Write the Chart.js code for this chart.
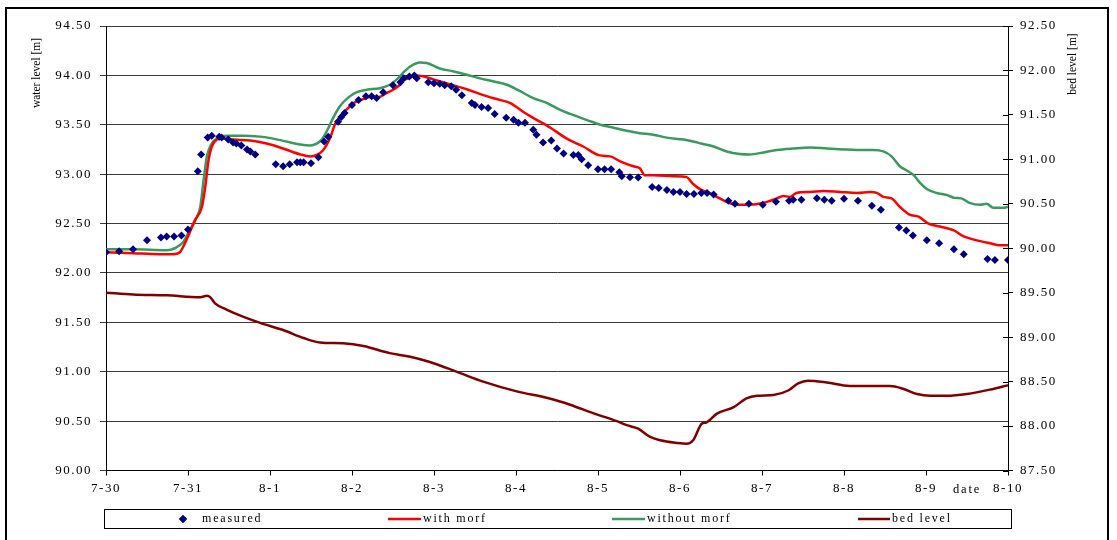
<!DOCTYPE html>
<html>
<head>
<meta charset="utf-8">
<script src="https://cdn.jsdelivr.net/npm/chart.js@4.4.0/dist/chart.umd.min.js"></script>
<style>
  html, body { margin: 0; padding: 0; background: #fff; }
  #wrap { position: relative; width: 1117px; height: 540px; overflow: hidden; }
  #wrap canvas { position: absolute; left: 0; top: 0; }
  #frame { position: absolute; left: 5px; top: 7px; width: 1100px; height: 560px; border: 2px solid #000; pointer-events: none; }
</style>
</head>
<body>
<div id="wrap">
  <canvas id="chart" width="1117" height="540"></canvas>
  <div id="frame"></div>
</div>
<script>
// Tick labels of the time axis (one per day, day 0 = 7-30)
const dateLabels = ['7-30', '7-31', '8-1', '8-2', '8-3', '8-4', '8-5', '8-6', '8-7', '8-8', '8-9', '8-10'];

// Measured water level [m]
const measuredDay = [0, 0.16, 0.33, 0.50, 0.67, 0.74, 0.83, 0.92, 1.00, 1.12, 1.16, 1.24, 1.29, 1.38, 1.41, 1.49, 1.55, 1.59, 1.65, 1.72, 1.76, 1.82,
  2.07, 2.16, 2.24, 2.33, 2.37, 2.41, 2.50, 2.59, 2.66, 2.71, 2.83, 2.87, 2.91, 3.00, 3.08, 3.17, 3.24, 3.30, 3.38, 3.50, 3.59, 3.63,
  3.70, 3.76, 3.79, 3.93, 4.00, 4.07, 4.13, 4.21, 4.27, 4.34, 4.46, 4.50, 4.58, 4.66, 4.74, 4.88, 4.97, 5.03, 5.11, 5.21, 5.25, 5.33,
  5.43, 5.50, 5.58, 5.70, 5.76, 5.80, 5.88, 6.00, 6.08, 6.16, 6.26, 6.29, 6.39, 6.49, 6.66, 6.74, 6.84, 6.92, 7.00, 7.08, 7.17, 7.26,
  7.33, 7.41, 7.59, 7.67, 7.84, 8.01, 8.17, 8.33, 8.38, 8.48, 8.67, 8.76, 8.85, 9.00, 9.17, 9.34, 9.45, 9.67, 9.76, 9.84, 10.01,
  10.16, 10.34, 10.46, 10.75, 10.84, 11.00];
const measuredLevel = [92.21, 92.22, 92.24, 92.33, 92.36, 92.37, 92.37, 92.38, 92.44, 93.03, 93.20, 93.37, 93.39, 93.38, 93.37, 93.35, 93.32, 93.31, 93.29, 93.25, 93.23, 93.20,
  93.10, 93.08, 93.10, 93.12, 93.12, 93.12, 93.11, 93.17, 93.33, 93.38, 93.53, 93.58, 93.62, 93.70, 93.75, 93.79, 93.79, 93.77, 93.83, 93.90, 93.93, 93.97,
  93.99, 94.00, 93.97, 93.93, 93.92, 93.915, 93.90, 93.89, 93.855, 93.80, 93.72, 93.70, 93.68, 93.67, 93.61, 93.57, 93.55, 93.52, 93.52, 93.45, 93.40, 93.32,
  93.34, 93.26, 93.21, 93.195, 93.195, 93.15, 93.09, 93.05, 93.05, 93.05, 93.02, 92.98, 92.97, 92.965, 92.87, 92.86, 92.84, 92.82, 92.82, 92.80, 92.80, 92.81,
  92.81, 92.795, 92.73, 92.70, 92.70, 92.69, 92.72, 92.73, 92.74, 92.74, 92.755, 92.74, 92.73, 92.75, 92.73, 92.68, 92.64, 92.46, 92.43, 92.38, 92.33,
  92.30, 92.24, 92.19, 92.14, 92.13, 92.13];

// Computed water level with morphology [m]
const withMorfDay = [0, 0.33, 0.66, 0.82, 0.90, 1.00, 1.085, 1.17, 1.21, 1.25, 1.29, 1.35, 1.41, 1.55, 1.76, 1.96, 2.16, 2.37, 2.49, 2.57, 2.65, 2.73, 2.79,
  2.85, 2.93, 3.02, 3.14, 3.22, 3.32, 3.42, 3.50, 3.585, 3.63, 3.69, 3.77, 3.87, 3.99, 4.19, 4.40, 4.60, 4.81, 4.93, 5.09, 5.21, 5.42, 5.62, 5.82,
  6.02, 6.15, 6.27, 6.43, 6.51, 6.57, 6.68, 6.92, 7.08, 7.16, 7.26, 7.33, 7.45, 7.57, 7.69, 7.85, 8.02, 8.18, 8.26, 8.34, 8.42, 8.59, 8.75, 8.95,
  9.16, 9.32, 9.40, 9.48, 9.58, 9.68, 9.80, 9.91, 10.03, 10.17, 10.34, 10.46, 10.62, 10.78, 10.90, 11.00];
const withMorfLevel = [92.21, 92.20, 92.19, 92.19, 92.21, 92.37, 92.535, 92.67, 92.87, 93.14, 93.28, 93.35, 93.36, 93.35, 93.34, 93.31, 93.26, 93.20, 93.18, 93.195, 93.245, 93.36, 93.50,
  93.58, 93.65, 93.72, 93.76, 93.78, 93.78, 93.82, 93.855, 93.905, 93.95, 93.97, 94.00, 93.99, 93.96, 93.91, 93.86, 93.80, 93.75, 93.72, 93.63, 93.57, 93.47, 93.36, 93.28,
  93.19, 93.18, 93.13, 93.08, 93.06, 92.99, 92.99, 92.98, 92.97, 92.90, 92.84, 92.82, 92.77, 92.72, 92.69, 92.69, 92.71, 92.755, 92.78, 92.77, 92.81, 92.82, 92.83, 92.82,
  92.81, 92.82, 92.81, 92.77, 92.755, 92.67, 92.59, 92.57, 92.50, 92.47, 92.43, 92.37, 92.33, 92.30, 92.28, 92.28];

// Computed water level without morphology [m]
const withoutMorfDay = [0, 0.33, 0.74, 0.84, 0.94, 1.02, 1.11, 1.15, 1.19, 1.23, 1.29, 1.37, 1.47, 1.67, 1.88, 2.04, 2.20, 2.37, 2.49, 2.57, 2.63, 2.69,
  2.77, 2.85, 2.96, 3.06, 3.18, 3.34, 3.46, 3.56, 3.64, 3.71, 3.83, 3.91, 4.07, 4.24, 4.40, 4.56, 4.72, 4.89, 5.05, 5.21, 5.38, 5.54, 5.66, 5.86,
  6.03, 6.19, 6.35, 6.51, 6.67, 6.84, 7.04, 7.16, 7.26, 7.41, 7.57, 7.73, 7.85, 8.02, 8.18, 8.38, 8.59, 8.79, 9.00, 9.16, 9.36, 9.48, 9.58, 9.68,
  9.76, 9.85, 9.93, 10.01, 10.13, 10.25, 10.35, 10.43, 10.53, 10.66, 10.74, 10.82, 10.96, 11.00];
const withoutMorfLevel = [92.24, 92.24, 92.23, 92.25, 92.31, 92.43, 92.57, 92.67, 92.94, 93.18, 93.31, 93.37, 93.39, 93.39, 93.38, 93.36, 93.33, 93.30, 93.29, 93.31, 93.35, 93.43,
  93.57, 93.685, 93.78, 93.83, 93.855, 93.87, 93.905, 93.97, 94.04, 94.09, 94.13, 94.125, 94.07, 94.04, 94.007, 93.97, 93.94, 93.905, 93.84, 93.77, 93.72, 93.65, 93.61, 93.55,
  93.50, 93.47, 93.44, 93.415, 93.40, 93.37, 93.35, 93.33, 93.31, 93.28, 93.23, 93.205, 93.20, 93.22, 93.245, 93.26, 93.27, 93.26, 93.25, 93.245, 93.245, 93.23, 93.18, 93.08,
  93.04, 92.99, 92.91, 92.85, 92.81, 92.79, 92.76, 92.755, 92.71, 92.69, 92.70, 92.66, 92.66, 92.67];

// Computed bed level [m] (right axis)
const bedDay = [0, 0.33, 0.74, 1.15, 1.23, 1.27, 1.33, 1.47, 1.67, 1.88, 2.16, 2.41, 2.61, 2.89, 3.14, 3.46, 3.71, 3.95, 4.28, 4.60, 5.01, 5.41,
  5.66, 5.94, 6.23, 6.35, 6.49, 6.63, 6.76, 6.96, 7.08, 7.16, 7.27, 7.32, 7.45, 7.65, 7.81, 7.94, 8.14, 8.32, 8.44, 8.56, 8.79, 9.07, 9.56, 9.72,
  9.89, 10.05, 10.25, 10.50, 10.78, 11.00];
const bedLevel = [89.50, 89.48, 89.47, 89.45, 89.465, 89.45, 89.38, 89.31, 89.23, 89.16, 89.08, 88.99, 88.94, 88.93, 88.90, 88.82, 88.78, 88.72, 88.61, 88.50, 88.39, 88.31,
  88.24, 88.145, 88.055, 88.01, 87.97, 87.88, 87.84, 87.81, 87.80, 87.84, 88.03, 88.04, 88.14, 88.21, 88.31, 88.34, 88.35, 88.40, 88.48, 88.51, 88.49, 88.45, 88.45, 88.42,
  88.36, 88.34, 88.34, 88.36, 88.41, 88.46];

const pairs = (xs, ys) => xs.map((x, i) => ({ x: x, y: ys[i] }));

const SERIF = "'Liberation Serif', 'Times New Roman', serif";

// Axis titles, the "date" label, inner halves of the right-axis ticks and the boxed legend
const decorations = {
  id: 'decorations',
  beforeDraw(chart) {
    chart.ctx.letterSpacing = '1.5px';
  },
  afterDraw(chart) {
    const ctx = chart.ctx;
    const y1 = chart.scales.y1;
    ctx.save();
    ctx.fillStyle = '#000';
    ctx.strokeStyle = '#000';

    // right axis ticks cross the axis line
    ctx.lineWidth = 1;
    y1.ticks.forEach(t => {
      const py = Math.round(y1.getPixelForValue(t.value)) + 0.5;
      ctx.beginPath();
      ctx.moveTo(y1.left - 5, py);
      ctx.lineTo(y1.left, py);
      ctx.stroke();
    });

    // vertical axis titles
    ctx.letterSpacing = '0px';
    ctx.font = '11.5px ' + SERIF;
    ctx.textAlign = 'center';
    ctx.textBaseline = 'middle';
    [['water level [m]', 37, 73], ['bed level [m]', 1073, 64]].forEach(([txt, x, y]) => {
      ctx.save();
      ctx.translate(x, y);
      ctx.rotate(-Math.PI / 2);
      ctx.fillText(txt, 0, 0);
      ctx.restore();
    });

    // horizontal axis name next to the last tick
    ctx.letterSpacing = '1.8px';
    ctx.font = '12.5px ' + SERIF;
    ctx.fillText('date', 967, 490);

    // legend
    const box = { left: 104, top: 509, width: 907, height: 19 };
    ctx.lineWidth = 1;
    ctx.strokeStyle = '#000';
    ctx.strokeRect(box.left + 0.5, box.top + 0.5, box.width, box.height);
    const cy = box.top + box.height / 2 + 0.5;
    const items = [
      { ds: 0, mark: 183, text: 202 },
      { ds: 1, from: 388, to: 421, text: 423 },
      { ds: 2, from: 612, to: 645, text: 647 },
      { ds: 3, from: 858, to: 890, text: 892 }
    ];
    ctx.textAlign = 'left';
    ctx.font = '12px ' + SERIF;
    items.forEach(it => {
      const ds = chart.data.datasets[it.ds];
      if (it.mark !== undefined) {
        ctx.fillStyle = ds.pointBackgroundColor;
        Chart.helpers.drawPoint(ctx, { pointStyle: 'rectRot', radius: 4, borderWidth: 0 }, it.mark, cy);
        ctx.fill();
      } else {
        ctx.strokeStyle = ds.borderColor;
        ctx.lineWidth = 2.5;
        ctx.beginPath();
        ctx.moveTo(it.from, cy);
        ctx.lineTo(it.to, cy);
        ctx.stroke();
      }
      ctx.fillStyle = '#000';
      ctx.fillText(ds.label, it.text, cy);
    });
    ctx.restore();
  }
};

new Chart(document.getElementById('chart'), {
  type: 'scatter',
  data: {
    datasets: [
      {
        label: 'measured',
        data: pairs(measuredDay, measuredLevel),
        yAxisID: 'y',
        showLine: false,
        pointStyle: 'rectRot',
        pointRadius: 4,
        pointBorderWidth: 0,
        pointBackgroundColor: '#000080',
        pointBorderColor: '#000080'
      },
      {
        label: 'with morf',
        data: pairs(withMorfDay, withMorfLevel),
        yAxisID: 'y',
        showLine: true,
        borderColor: '#ff0000',
        borderWidth: 2.5,
        pointRadius: 0,
        cubicInterpolationMode: 'monotone'
      },
      {
        label: 'without morf',
        data: pairs(withoutMorfDay, withoutMorfLevel),
        yAxisID: 'y',
        showLine: true,
        borderColor: '#3a9a5e',
        borderWidth: 2.5,
        pointRadius: 0,
        cubicInterpolationMode: 'monotone'
      },
      {
        label: 'bed level',
        data: pairs(bedDay, bedLevel),
        yAxisID: 'y1',
        showLine: true,
        borderColor: '#800000',
        borderWidth: 2.5,
        pointRadius: 0,
        cubicInterpolationMode: 'monotone'
      }
    ]
  },
  options: {
    responsive: false,
    animation: false,
    devicePixelRatio: 1,
    layout: { padding: { left: 0, right: 0, top: 26, bottom: 39.5 } },
    plugins: {
      legend: { display: false },
      tooltip: { enabled: false }
    },
    scales: {
      x: {
        type: 'linear',
        min: 0,
        max: dateLabels.length - 1,
        afterFit: s => { s.height = 30; },
        border: { display: true, color: '#000', width: 1 },
        grid: { drawOnChartArea: false, drawTicks: true, tickLength: 5, color: '#000' },
        ticks: {
          stepSize: 1,
          autoSkip: false,
          maxRotation: 0,
          padding: 5,
          color: '#000',
          font: { family: SERIF, size: 13 },
          callback: v => dateLabels[v]
        }
      },
      y: {
        position: 'left',
        min: 90,
        max: 94.5,
        afterFit: s => { s.width = 106; },
        border: { display: true, color: '#000', width: 1 },
        grid: { color: '#3a3a3a', lineWidth: 1, tickLength: 6 },
        ticks: {
          stepSize: 0.5,
          padding: 8,
          color: '#000',
          font: { family: SERIF, size: 13 },
          callback: v => v.toFixed(2)
        }
      },
      y1: {
        position: 'right',
        min: 87.5,
        max: 92.5,
        afterFit: s => { s.width = 109; },
        border: { display: true, color: '#000', width: 1 },
        grid: { drawOnChartArea: false, tickLength: 5, color: '#000' },
        ticks: {
          stepSize: 0.5,
          padding: 7,
          color: '#000',
          font: { family: SERIF, size: 13 },
          callback: v => v.toFixed(2)
        }
      }
    }
  },
  plugins: [decorations]
});
</script>
</body>
</html>
